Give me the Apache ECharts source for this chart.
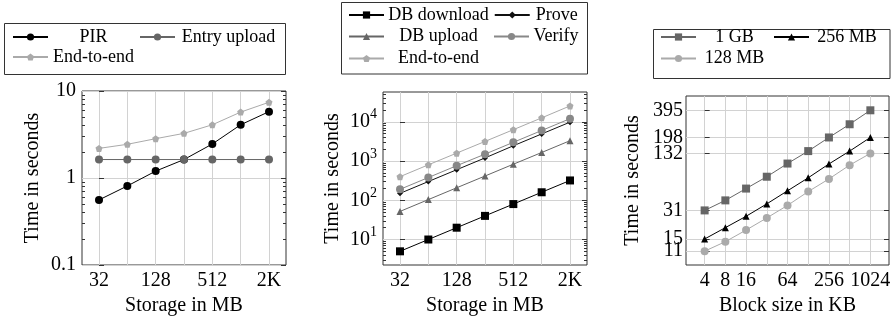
<!DOCTYPE html>
<html>
<head>
<meta charset="utf-8">
<script src="https://cdn.jsdelivr.net/npm/echarts@6/dist/echarts.min.js"></script>
<style>
  html, body { margin: 0; padding: 0; background: #fff; }
  #chart { width: 894px; height: 321px; }
</style>
</head>
<body>
<div id="chart"></div>
<script>
const FONT = 'Liberation Serif';

// x axis of the first two plots: storage in MB
const storageLabels = ['32', '64', '128', '256', '512', '1K', '2K'];
const storageShown = [0, 2, 4, 6];

// plot 1 (seconds)
const pirTime = [0.56, 0.81, 1.2, 1.63, 2.46, 4.09, 5.79];
const entryUploadTime = [1.63, 1.63, 1.63, 1.63, 1.63, 1.63, 1.63];
const endToEnd1 = [2.19, 2.44, 2.83, 3.26, 4.09, 5.72, 7.42];
const yTicks1 = [0.1, 1, 10];

// plot 2 (seconds)
const dbDownload = [5, 10, 20, 40, 80, 160, 320];
const prove = [150, 300, 600, 1200, 2450, 4900, 9800];
const dbUpload = [52, 104, 208, 415, 830, 1650, 3300];
const verify = [190, 380, 760, 1500, 3000, 6000, 12000];
const endToEnd2 = [400, 800, 1590, 3160, 6300, 12600, 25400];
const yTicks2 = [10, 100, 1000, 10000];

// plot 3: block size in KB
const blockLabels = ['4', '8', '16', '32', '64', '128', '256', '512', '1024'];
const blockShown = [0, 1, 2, 4, 6, 8];
const gb1 = [31, 40, 54, 73, 102, 140, 198, 277, 395];
const mb256 = [15, 20, 26.7, 36.6, 51, 71, 101, 140, 198];
const mb128 = [11, 14, 18.8, 25.6, 35.2, 50, 69, 98, 132];
const yTicks3 = [11, 15, 31, 132, 198, 395];

const pentagon = 'path://M0,-1 L0.951,-0.309 L0.588,0.809 L-0.588,0.809 L-0.951,-0.309 Z';

function minorLogTicks(lo, hi) {
  const out = [];
  for (let d = lo; d < hi; d *= 10) {
    for (let k = 2; k < 10; k++) out.push(+(d * k).toPrecision(3));
  }
  return out;
}

const tickFont = { fontFamily: FONT, fontSize: 20, color: '#000' };
const nameFont = { fontFamily: FONT, fontSize: 20, color: '#000' };
const gridColor = '#d2d2d2';
const frameColor = '#333';

function xAxisFor(gridIndex, labels, shown, min, max, name) {
  return {
    type: 'value', gridIndex, min, max,
    axisLine: { show: false },
    axisTick: { show: false, customValues: labels.map((_, i) => i) },
    splitLine: { show: true, lineStyle: { color: gridColor, width: 1 } },
    axisLabel: Object.assign({
      customValues: shown, margin: 6, hideOverlap: false, showMinLabel: true, showMaxLabel: true,
      formatter: v => labels[v]
    }, tickFont),
    name, nameLocation: 'middle', nameGap: 31, nameTextStyle: nameFont
  };
}

function tickAxis(gridIndex, min, max, values, length, position) {
  return {
    type: 'log', gridIndex, min, max, position,
    axisLine: { show: false },
    axisLabel: { show: false },
    splitLine: { show: false },
    axisTick: { show: true, inside: true, length, customValues: values, lineStyle: { color: frameColor, width: 1 } }
  };
}

function line(name, xi, yi, values, color, symbol, size, lineColor) {
  return {
    name, type: 'line', xAxisIndex: xi, yAxisIndex: yi,
    data: values.map((v, i) => [i, v]),
    symbol, symbolSize: size, showSymbol: true,
    lineStyle: { color: lineColor || color, width: 1 },
    itemStyle: { color, borderWidth: 0 },
    emphasis: { disabled: true }
  };
}

function legendRow(names, widths, left, top) {
  const rich = {};
  widths.forEach((w, i) => {
    rich['c' + i] = { width: w, align: 'center', fontFamily: FONT, fontSize: 18, color: '#000', lineHeight: 20 };
  });
  return {
    data: names, left, top, orient: 'horizontal', padding: 0,
    itemGap: 5, itemWidth: 35, itemHeight: 9, selectedMode: false,
    textStyle: { fontFamily: FONT, fontSize: 18, color: '#000', rich },
    formatter: n => '{c' + names.indexOf(n) + '|' + n + '}'
  };
}

const chart = echarts.init(document.getElementById('chart'), null, { renderer: 'canvas' });

const ymin2 = 2.24, ymax2 = 57500;
const ymin3 = 7.74, ymax3 = 568;

function yLabel(values, margin, extra) {
  return Object.assign({
    customValues: values, margin, hideOverlap: false, showMinLabel: true, showMaxLabel: true
  }, tickFont, extra);
}

const option = {
  animation: false,
  backgroundColor: '#fff',
  grid: [
    { left: 82, top: 91, width: 204, height: 175, show: true, borderColor: frameColor, borderWidth: 1 },
    { left: 383, top: 92, width: 204, height: 174, show: true, borderColor: frameColor, borderWidth: 1 },
    { left: 686, top: 96, width: 203, height: 173.5, show: true, borderColor: frameColor, borderWidth: 1 }
  ],
  xAxis: [
    xAxisFor(0, storageLabels, storageShown, -0.6, 6.6, 'Storage in MB'),
    xAxisFor(1, storageLabels, storageShown, -0.6, 6.6, 'Storage in MB'),
    xAxisFor(2, blockLabels, blockShown, -0.9, 8.9, 'Block size in KB')
  ],
  yAxis: [
    // plot 1
    {
      type: 'log', gridIndex: 0, min: 0.1, max: 10, position: 'left',
      axisLine: { show: false },
      axisTick: { show: true, inside: true, length: 5, customValues: yTicks1, lineStyle: { color: frameColor } },
      splitLine: { show: true, lineStyle: { color: gridColor } },
      axisLabel: yLabel(yTicks1, 6, { formatter: v => String(v) }),
      name: 'Time in seconds', nameLocation: 'middle', nameGap: 39, nameTextStyle: nameFont
    },
    tickAxis(0, 0.1, 10, minorLogTicks(0.1, 10), 3, 'left'),
    tickAxis(0, 0.1, 10, yTicks1, 5, 'right'),
    tickAxis(0, 0.1, 10, minorLogTicks(0.1, 10), 3, 'right'),
    // plot 2
    {
      type: 'log', gridIndex: 1, min: ymin2, max: ymax2, position: 'left',
      axisLine: { show: false },
      axisTick: { show: true, inside: true, length: 5, customValues: yTicks2, lineStyle: { color: frameColor } },
      splitLine: { show: true, lineStyle: { color: gridColor } },
      axisLabel: yLabel(yTicks2, 6, {
        formatter: v => '10{sup|' + Math.round(Math.log10(v)) + '}',
        rich: { sup: { fontFamily: FONT, fontSize: 14, color: '#000', padding: [0, 0, 14, 0] } }
      }),
      name: 'Time in seconds', nameLocation: 'middle', nameGap: 40, nameTextStyle: nameFont
    },
    tickAxis(1, ymin2, ymax2, minorLogTicks(1, 100000).filter(v => v > ymin2 && v < ymax2), 3, 'left'),
    tickAxis(1, ymin2, ymax2, yTicks2, 5, 'right'),
    tickAxis(1, ymin2, ymax2, minorLogTicks(1, 100000).filter(v => v > ymin2 && v < ymax2), 3, 'right'),
    // plot 3: the two lowest labels overlap, so they go on separate axes
    {
      type: 'log', gridIndex: 2, min: ymin3, max: ymax3, position: 'left',
      axisLine: { show: false },
      axisTick: { show: true, inside: true, length: 5, customValues: yTicks3, lineStyle: { color: frameColor } },
      splitLine: { show: true, lineStyle: { color: gridColor } },
      axisLabel: yLabel(yTicks3.slice(1), 3, { formatter: v => String(v) }),
      name: 'Time in seconds', nameLocation: 'middle', nameGap: 43, nameTextStyle: nameFont
    },
    {
      type: 'log', gridIndex: 2, min: ymin3, max: ymax3, position: 'left',
      axisLine: { show: false },
      axisTick: { show: false },
      splitLine: { show: false },
      axisLabel: yLabel(yTicks3.slice(0, 1), 3, { formatter: v => String(v) })
    },
    tickAxis(2, ymin3, ymax3, yTicks3, 5, 'right')
  ],
  legend: [
    legendRow(['PIR', 'Entry upload'], [81, 97], 12, 28),
    legendRow(['End-to-end'], [81], 12, 48),
    legendRow(['DB download', 'Prove'], [99, 44], 348, 6),
    legendRow(['DB upload', 'Verify'], [99, 44], 348, 27.5),
    legendRow(['End-to-end'], [99], 348, 49.5),
    legendRow(['1 GB', '256 MB'], [67, 66], 660, 28),
    legendRow(['128 MB'], [67], 660, 49.5)
  ],
  graphic: [
    { type: 'rect', shape: { x: 4.5, y: 23.5, width: 281, height: 51 }, style: { fill: 'none', stroke: frameColor, lineWidth: 1 } },
    { type: 'rect', shape: { x: 341.5, y: 2.5, width: 246, height: 71.5 }, style: { fill: 'none', stroke: frameColor, lineWidth: 1 } },
    { type: 'rect', shape: { x: 653.5, y: 29.5, width: 236.5, height: 49 }, style: { fill: 'none', stroke: frameColor, lineWidth: 1 } }
  ],
  series: [
    line('PIR', 0, 0, pirTime, '#000', 'circle', 8),
    line('Entry upload', 0, 0, entryUploadTime, '#666', 'circle', 8),
    line('End-to-end', 0, 0, endToEnd1, '#aaa', pentagon, 7),

    line('DB download', 1, 4, dbDownload, '#000', 'rect', 8),
    line('Prove', 1, 4, prove, '#111', 'diamond', 6),
    line('DB upload', 1, 4, dbUpload, '#666', 'triangle', 7),
    line('Verify', 1, 4, verify, '#888', 'circle', 8),
    line('End-to-end', 1, 4, endToEnd2, '#aaa', pentagon, 7),

    line('1 GB', 2, 8, gb1, '#666', 'rect', 8),
    line('256 MB', 2, 8, mb256, '#000', 'triangle', 7),
    line('128 MB', 2, 8, mb128, '#aaa', 'circle', 8)
  ]
};

chart.setOption(option);
</script>
</body>
</html>
